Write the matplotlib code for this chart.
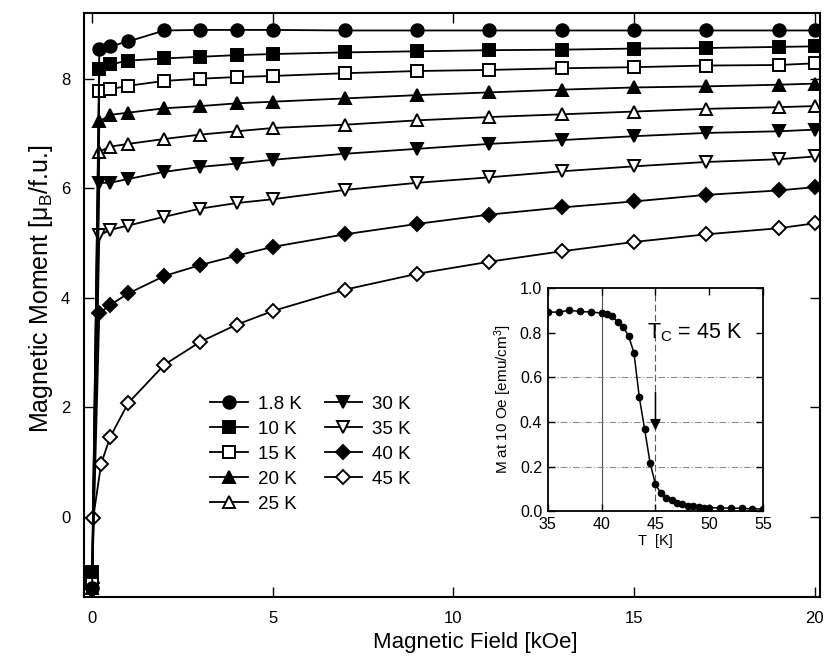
import matplotlib
matplotlib.use("Agg")
import matplotlib.pyplot as plt
import numpy as np

plt.rcParams['font.family'] = ['Liberation Sans', 'DejaVu Sans']
plt.rcParams['mathtext.fontset'] = 'custom'
plt.rcParams['mathtext.rm'] = 'Liberation Sans'
plt.rcParams['mathtext.it'] = 'Liberation Sans'

# field sweep points (kOe)
field = [0, 0.2, 0.5, 1, 2, 3, 4, 5, 7, 9, 11, 13, 15, 17, 19, 20]
field_45 = [0.03, 0.25, 0.5, 1, 2, 3, 4, 5, 7, 9, 11, 13, 15, 17, 19, 20]

# magnetic moment (mu_B / f.u.)
m_1p8 = [-1.3, 8.54, 8.59, 8.68, 8.88, 8.89, 8.89, 8.89, 8.88, 8.88, 8.88, 8.88, 8.88, 8.88, 8.88, 8.88]
m_10 = [-1.0, 8.18, 8.26, 8.33, 8.37, 8.40, 8.43, 8.45, 8.48, 8.50, 8.52, 8.53, 8.55, 8.56, 8.58, 8.59]
m_15 = [-1.15, 7.77, 7.81, 7.87, 7.96, 8.0, 8.03, 8.05, 8.1, 8.14, 8.16, 8.19, 8.21, 8.24, 8.25, 8.28]
m_20 = [-1.3, 7.22, 7.34, 7.38, 7.46, 7.5, 7.55, 7.58, 7.64, 7.7, 7.75, 7.8, 7.84, 7.86, 7.89, 7.91]
m_25 = [-1.2, 6.67, 6.76, 6.81, 6.9, 6.98, 7.04, 7.1, 7.16, 7.24, 7.3, 7.35, 7.4, 7.45, 7.48, 7.5]
m_30 = [-1.38, 6.1, 6.1, 6.17, 6.3, 6.39, 6.45, 6.52, 6.63, 6.72, 6.81, 6.88, 6.95, 7.01, 7.04, 7.07]
m_35 = [-1.3, 5.14, 5.24, 5.32, 5.48, 5.63, 5.73, 5.8, 5.97, 6.1, 6.2, 6.31, 6.4, 6.48, 6.53, 6.58]
m_40 = [-1.2, 3.72, 3.87, 4.08, 4.4, 4.6, 4.77, 4.93, 5.16, 5.35, 5.52, 5.65, 5.76, 5.88, 5.96, 6.02]
m_45 = [-0.02, 0.97, 1.46, 2.08, 2.78, 3.2, 3.51, 3.76, 4.15, 4.44, 4.66, 4.85, 5.02, 5.16, 5.27, 5.36]

labels = ['1.8 K', '10 K', '15 K', '20 K', '25 K', '30 K', '35 K', '40 K', '45 K']

# inset: M at 10 Oe vs T
temp = [35, 36, 37, 38, 39, 40, 40.5, 41, 41.5, 42, 42.5, 43, 43.5, 44, 44.5, 45,
        45.5, 46, 46.5, 47, 47.5, 48, 48.5, 49, 49.5, 50, 51, 52, 53, 54, 55]
m_10oe = [0.892, 0.892, 0.9, 0.895, 0.892, 0.888, 0.883, 0.873, 0.847, 0.825, 0.786, 0.71,
          0.51, 0.366, 0.216, 0.12, 0.081, 0.06, 0.048, 0.037, 0.033, 0.025, 0.021, 0.018,
          0.015, 0.015, 0.015, 0.013, 0.013, 0.01, 0.01]

fig = plt.figure(figsize=(8.25, 6.57), dpi=100)
ax = fig.add_axes([0.102, 0.0913, 0.892, 0.889])

curves = [(field, m_1p8, 'o', 'k', 9), (field, m_10, 's', 'k', 9), (field, m_15, 's', 'w', 9),
          (field, m_20, '^', 'k', 9), (field, m_25, '^', 'w', 9), (field, m_30, 'v', 'k', 9),
          (field, m_35, 'v', 'w', 9), (field, m_40, 'D', 'k', 7), (field_45, m_45, 'D', 'w', 7)]

# draw the 45 K curve first so the low-temperature markers sit on top at zero field
order = list(range(len(curves)))[::-1]
handles = [None] * len(curves)
for i in order:
    xs, ys, mk, fc, ms = curves[i]
    handles[i], = ax.plot(xs, ys, color='k', lw=1.3, marker=mk, ms=ms, mfc=fc, mec='k',
                          mew=1.4, label=labels[i])

ax.set_xlim(-0.22, 20.15)
ax.set_ylim(-1.46, 9.2)
ax.set_xticks([0, 5, 10, 15, 20])
ax.set_yticks([0, 2, 4, 6, 8])
ax.tick_params(direction='in', length=7, width=1, top=True, right=True, labelsize=12, pad=10)
for s in ax.spines.values():
    s.set_linewidth(1.5)
ax.set_xlabel('Magnetic Field [kOe]', fontsize=16)
ax.xaxis.set_label_coords(0.531, -0.06)
ax.set_ylabel(r'Magnetic Moment [$\mathregular{\mu_B}$/f.u.]', fontsize=18)
ax.yaxis.set_label_coords(-0.04, 0.527)

ax.legend(handles=handles, ncol=2, frameon=False, loc='upper left',
          bbox_to_anchor=(0.246, 0.4095), bbox_transform=fig.transFigure, fontsize=13.5,
          numpoints=1, handlelength=2.0, handletextpad=0.55, labelspacing=0.42,
          columnspacing=1.2, borderpad=0.4, borderaxespad=0)

# inset
ins = fig.add_axes([0.664, 0.222, 0.261, 0.3396])
ins.axvline(40, color='0.3', lw=0.8, zorder=0)
ins.axvline(45, color='0.35', lw=0.8, ls=(0, (6, 3)), zorder=0)
for yv in [0.2, 0.4, 0.6]:
    ins.axhline(yv, color='0.55', lw=0.8, ls=(0, (6, 2, 1, 2)), zorder=0)
ins.plot(temp, m_10oe, color='k', lw=1.1, marker='o', ms=4.5)
ins.annotate('', xy=(45, 0.35), xytext=(45, 0.545),
             arrowprops=dict(arrowstyle='-|>', color='k', lw=1.1, mutation_scale=16))
ins.text(48.6, 0.8, r'T$_\mathregular{C}$ = 45 K', fontsize=15.5, ha='center', va='center')
ins.set_xlim(35, 55)
ins.set_ylim(0, 1.0)
ins.set_xticks([35, 40, 45, 50, 55])
ins.set_yticks([0.0, 0.2, 0.4, 0.6, 0.8, 1.0])
ins.set_yticklabels(['0.0', '0.2', '0.4', '0.6', '0.8', '1.0'])
ins.tick_params(direction='in', length=5, width=1, top=True, right=True, labelsize=11.5, pad=4)
for s in ins.spines.values():
    s.set_linewidth(1.3)
ins.set_xlabel('T  [K]', fontsize=10.5, labelpad=2)
ins.set_ylabel(r'M at 10 Oe [emu/cm$^\mathregular{3}$]', fontsize=11, labelpad=4)

fig.savefig('out.png', dpi=100)
